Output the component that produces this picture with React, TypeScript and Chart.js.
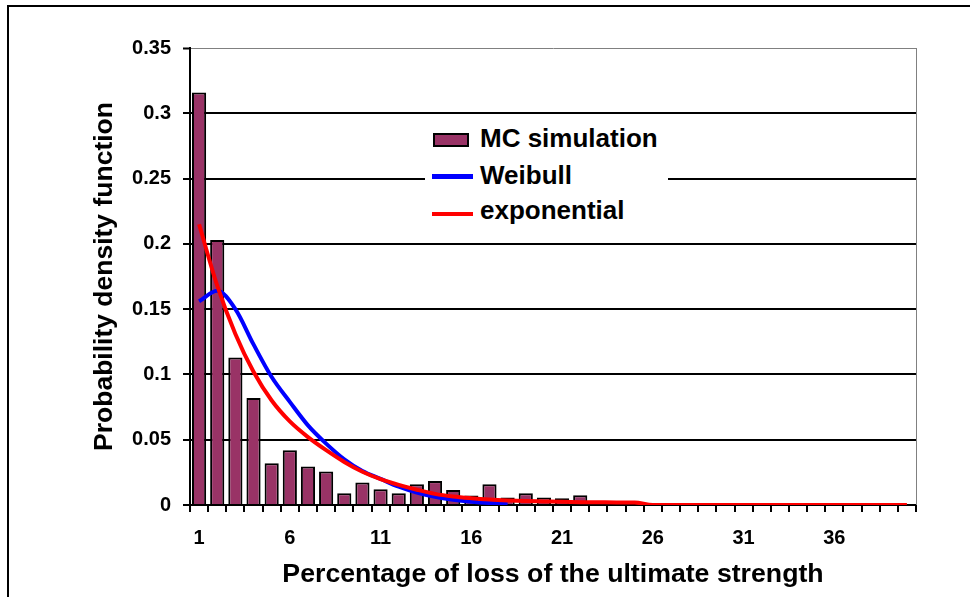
import React, { useEffect, useRef } from 'react';
import { Chart, registerables } from 'chart.js';

Chart.register(...registerables);

const categories = [
  '1', '2', '3', '4', '5', '6', '7', '8', '9', '10',
  '11', '12', '13', '14', '15', '16', '17', '18', '19', '20',
  '21', '22', '23', '24', '25', '26', '27', '28', '29', '30',
  '31', '32', '33', '34', '35', '36', '37', '38', '39', '40',
];

const xTickLabels = ['1', '6', '11', '16', '21', '26', '31', '36'];

const mcSimulation = [
  0.316, 0.203, 0.113, 0.082, 0.032, 0.042, 0.0295, 0.0257, 0.009, 0.0173,
  0.012, 0.009, 0.0158, 0.0183, 0.0114, 0.0073, 0.0158, 0.0058, 0.009, 0.0058,
  0.0052, 0.0075, 0, 0, 0, 0, 0, 0, 0, 0,
  0, 0, 0, 0, 0, 0, 0, 0, 0, 0,
];

const weibull = [
  0.156, 0.164, 0.15, 0.123, 0.098, 0.079, 0.061, 0.047, 0.035, 0.026,
  0.02, 0.014, 0.0095, 0.0062, 0.004, 0.0025, 0.0015, 0.001, null, null,
  null, null, null, null, null, null, null, null, null, null,
  null, null, null, null, null, null, null, null, null, null,
];

const exponential = [
  0.215, 0.168, 0.131, 0.102, 0.08, 0.064, 0.052, 0.042, 0.033, 0.0255,
  0.0198, 0.0154, 0.0117, 0.0085, 0.0065, 0.0052, 0.0042, 0.0035, 0.003, 0.0027,
  0.0024, 0.0022, 0.0021, 0.002, 0.0019, 0, 0, 0, 0, 0,
  0, 0, 0, 0, 0, 0, 0, 0, 0, 0,
];

const yMin = 0;
const yMax = 0.35;
const yStep = 0.05;

const FONT = '"Liberation Sans", Arial, sans-serif';

const framePlugin = {
  id: 'plotFrame',
  beforeDatasetsDraw(chart: any) {
    const { ctx, chartArea } = chart;
    ctx.save();
    ctx.strokeStyle = '#808080';
    ctx.lineWidth = 1;
    ctx.beginPath();
    ctx.moveTo(chartArea.right + 0.5, chartArea.top);
    ctx.lineTo(chartArea.right + 0.5, chartArea.bottom);
    ctx.stroke();
    ctx.restore();
  },
};

export default function App() {
  const canvasRef = useRef<HTMLCanvasElement | null>(null);

  useEffect(() => {
    const canvas = canvasRef.current;
    if (!canvas) return;
    const chart = new Chart(canvas, {
      type: 'bar',
      data: {
        labels: categories,
        datasets: [
          {
            type: 'line',
            label: 'exponential',
            data: exponential,
            borderColor: '#ff0000',
            backgroundColor: '#ff0000',
            borderWidth: 4,
            pointRadius: 0,
            cubicInterpolationMode: 'monotone',
            order: 0,
            clip: 0,
          } as any,
          {
            type: 'line',
            label: 'Weibull',
            data: weibull,
            borderColor: '#0000ff',
            backgroundColor: '#0000ff',
            borderWidth: 4,
            pointRadius: 0,
            cubicInterpolationMode: 'monotone',
            spanGaps: false,
            order: 1,
          } as any,
          {
            type: 'bar',
            label: 'MC simulation',
            data: mcSimulation,
            backgroundColor: '#993366',
            borderColor: '#000000',
            borderWidth: 2,
            barPercentage: 0.78,
            categoryPercentage: 1,
            order: 2,
          } as any,
        ],
      },
      options: {
        responsive: false,
        animation: false,
        events: [],
        layout: { padding: { top: 48, right: 54, left: 0, bottom: 0 } },
        plugins: {
          legend: { display: false },
          tooltip: { enabled: false },
        },
        scales: {
          x: {
            type: 'category',
            offset: true,
            grid: {
              offset: true,
              drawOnChartArea: false,
              drawTicks: true,
              tickLength: 7,
              color: '#000000',
              lineWidth: 2,
            },
            border: { display: true, color: '#000000', width: 2 },
            ticks: {
              autoSkip: false,
              maxRotation: 0,
              minRotation: 0,
              padding: 14,
              color: '#000000',
              font: { family: FONT, size: 20, weight: 'bold' },
              callback: (_v: any, i: number) =>
                xTickLabels.includes(categories[i]) ? categories[i] : '',
            },
            title: {
              display: true,
              text: 'Percentage of loss of the ultimate strength',
              color: '#000000',
              font: { family: FONT, size: 26.7, weight: 'bold' },
              padding: { top: 0, bottom: 6 },
            },
            afterFit: (s: any) => {
              s.height = 92;
            },
          } as any,
          y: {
            min: yMin,
            max: yMax,
            ticks: {
              stepSize: yStep,
              padding: 12,
              color: '#000000',
              font: { family: FONT, size: 20, weight: 'bold' },
              callback: (v: any) => String(Number(Number(v).toFixed(2))),
            },
            grid: {
              color: (ctx: any) =>
                ctx.tick && Math.abs(ctx.tick.value - yMax) < 1e-6 ? '#808080' : '#000000',
              lineWidth: (ctx: any) =>
                ctx.tick && Math.abs(ctx.tick.value - yMax) < 1e-6 ? 1 : 2,
              tickColor: '#000000',
              tickLength: 7,
              tickWidth: 2,
            },
            border: { display: true, color: '#000000', width: 2 },
            title: {
              display: true,
              text: 'Probability density function',
              color: '#000000',
              font: { family: FONT, size: 26.5, weight: 'bold' },
              padding: { top: 89, bottom: 0 },
            },
            afterFit: (s: any) => {
              s.width = 190;
            },
          } as any,
        },
      },
      plugins: [framePlugin],
    });
    return () => chart.destroy();
  }, []);

  const textStyle: React.CSSProperties = {
    position: 'absolute',
    left: 480,
    fontFamily: FONT,
    fontWeight: 'bold',
    fontSize: 26,
    lineHeight: '30px',
    color: '#000',
    whiteSpace: 'nowrap',
  };

  return (
    <div style={{ position: 'absolute', left: 0, top: 0, width: 970, height: 597, overflow: 'hidden', background: '#fff' }}>
      <div
        style={{
          position: 'absolute',
          left: 7,
          top: 5,
          width: 2000,
          height: 2000,
          border: '2px solid #000',
        }}
      />
      <canvas
        ref={canvasRef}
        width={970}
        height={597}
        style={{ position: 'absolute', left: 0, top: 0, display: 'block' }}
      />
      <div style={{ position: 'absolute', left: 425, top: 119, width: 243, height: 116, background: '#fff' }} />
      <div
        style={{
          position: 'absolute',
          left: 433,
          top: 133,
          width: 36,
          height: 14,
          background: '#993366',
          border: '2px solid #000',
          boxSizing: 'border-box',
        }}
      />
      <div style={{ ...textStyle, top: 123 }}>MC simulation</div>
      <div style={{ position: 'absolute', left: 432, top: 174, width: 41, height: 5, background: '#0000ff' }} />
      <div style={{ ...textStyle, top: 160 }}>Weibull</div>
      <div style={{ position: 'absolute', left: 432, top: 212, width: 41, height: 4, background: '#ff0000' }} />
      <div style={{ ...textStyle, top: 195 }}>exponential</div>
    </div>
  );
}
